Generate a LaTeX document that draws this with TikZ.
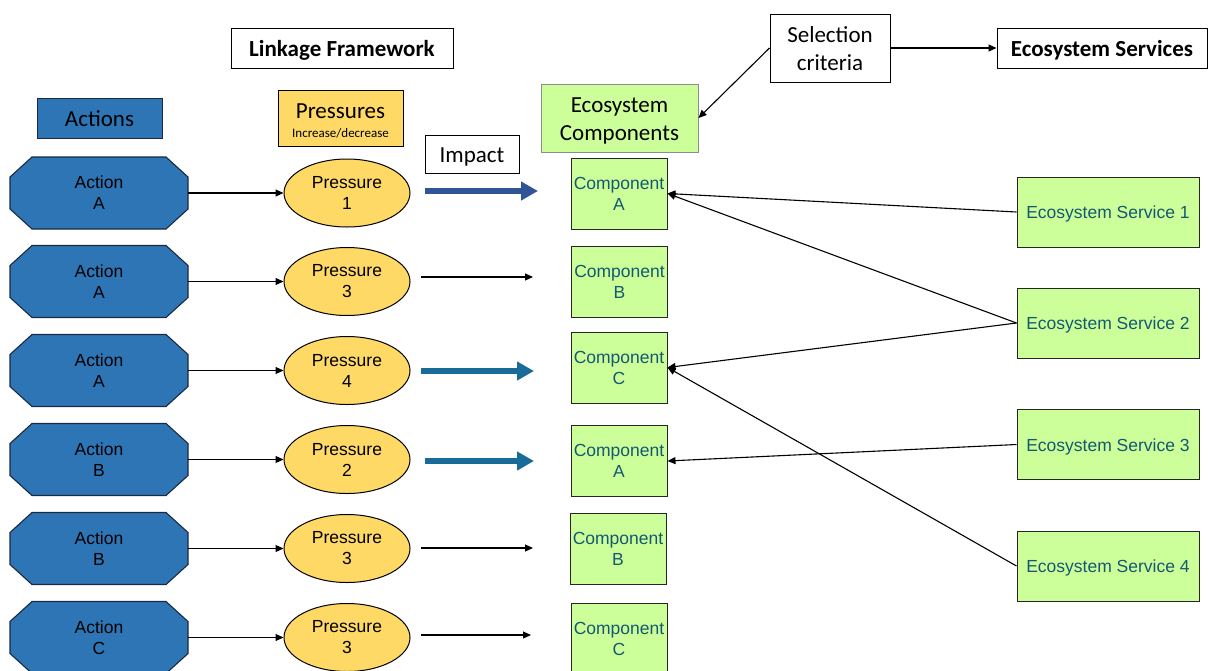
\documentclass[tikz,border=0pt]{standalone}
\usepackage{fontspec}
\setmainfont{Liberation Sans}
\newfontfamily\hdfont{Carlito}
\usetikzlibrary{shapes.geometric,arrows.meta}

\definecolor{actfill}{HTML}{2E75B6}
\definecolor{actline}{HTML}{1A2A40}
\definecolor{presfill}{HTML}{FFD966}
\definecolor{compfill}{HTML}{CCFF99}
\definecolor{comptext}{HTML}{145872}
\definecolor{impdark}{HTML}{2F5597}
\definecolor{impteal}{HTML}{1A6C98}

% header text, set in a zero-height box and lowered to sit centred in its frame
\newcommand{\hdtext}[1]{\raisebox{-9.5pt}[0pt][0pt]{\begin{tabular}{@{}c@{}}#1\end{tabular}}}
\newcommand{\svtext}[1]{\raisebox{-6.8pt}[0pt][0pt]{#1}}

\begin{document}
\begin{tikzpicture}[x=1pt,y=-1pt,
  hdr/.style={draw=black, line width=1pt, inner sep=0pt, align=center,
    font=\hdfont\fontsize{23}{28}\selectfont},
  actshape/.style={draw=actline, line width=1.1pt, fill=actfill, line join=miter},
  actbox/.style={rectangle, minimum width=178pt, minimum height=72pt,
    inner sep=0pt, align=center, font=\fontsize{17.5}{21}\selectfont},
  presnode/.style={ellipse, draw=black, line width=1pt, fill=presfill,
    minimum width=126pt, minimum height=68pt, inner sep=0pt, align=center,
    font=\fontsize{17.5}{21}\selectfont},
  compnode/.style={rectangle, draw=black!85, line width=1pt, fill=compfill,
    minimum width=96pt, minimum height=71pt, inner sep=0pt, align=center,
    text=comptext, font=\fontsize{17.5}{21}\selectfont},
  servnode/.style={rectangle, draw=black!85, line width=1pt, fill=compfill,
    minimum width=182pt, minimum height=70pt, inner sep=0pt, align=center,
    text=comptext, font=\fontsize{17.5}{21}\selectfont},
  link/.style={line width=1.1pt, -{Triangle[length=8pt,width=7pt]}},
  bigarrow/.style={line width=6pt, -{Triangle[length=17pt,width=18pt]}},
]
\useasboundingbox (0,0) rectangle (1208,670);
\fill[white] (0,0) rectangle (1208,670);

% header labels
\node[hdr, minimum width=222pt, minimum height=40pt] (lf) at (342,48)
  {\hdtext{\bfseries Linkage Framework}};
\node[hdr, fill=actfill, draw=actline, minimum width=125pt, minimum height=40pt]
  (acts) at (99.5,118) {\hdtext{Actions}};
\node[hdr, fill=presfill, minimum width=125pt, minimum height=56pt] (press)
  at (340.5,118) {\raisebox{-11pt}[0pt][0pt]{\begin{tabular}{@{}c@{}}Pressures\\[-9pt]
    {\fontsize{13}{15}\selectfont Increase/decrease}\end{tabular}}};
\node[hdr, minimum width=94pt, minimum height=38pt] (imp) at (472,154)
  {\hdtext{Impact}};
\node[hdr, fill=compfill, draw=black!45, minimum width=157pt, minimum height=68pt]
  (ecocomp) at (619.5,118) {\hdtext{Ecosystem\\Components}};
\node[hdr, minimum width=120pt, minimum height=68pt] (sel) at (830,48)
  {\hdtext{Selection\\criteria}};
\node[hdr, minimum width=210pt, minimum height=40pt] (es) at (1102,48)
  {\hdtext{\bfseries Ecosystem Services}};

\draw[link] (sel.west) -- (ecocomp.east);
\draw[link] (sel.east) -- (es.west);

% action -> pressure rows (octagonal action shapes)
\foreach \i/\y/\a/\p in {1/193/A/1, 2/281.5/A/3, 3/370.5/A/4, 4/459.5/B/2,
                          5/548.5/B/3, 6/637.5/C/3} {
  \path[actshape] (99,\y) +(-67,-36) -- +(67,-36) -- +(89,-16) -- +(89,16)
    -- +(67,36) -- +(-67,36) -- +(-89,16) -- +(-89,-16) -- cycle;
  \node[actbox] (a\i) at (99,\y) {Action\\\a};
  \node[presnode] (p\i) at (347,\y) {Pressure\\\p};
  \draw[link] (a\i.east) -- (p\i.west);
}

% ecosystem components
\node[compnode] (c1) at (619,193.5) {Component\\A};
\node[compnode] (c2) at (619.5,281.5) {Component\\B};
\node[compnode] (c3) at (619,367.5) {Component\\C};
\node[compnode] (c4) at (619,461) {Component\\A};
\node[compnode] (c5) at (618,548.5) {Component\\B};
\node[compnode] (c6) at (619,638.5) {Component\\C};

% impact arrows
\coordinate (i1s) at (425,191);  \coordinate (i1e) at (538,191);
\coordinate (i2s) at (421,277);  \coordinate (i2e) at (533,277);
\coordinate (i3s) at (421,371);  \coordinate (i3e) at (534,371);
\coordinate (i4s) at (425,461);  \coordinate (i4e) at (534,461);
\coordinate (i5s) at (421,548);  \coordinate (i5e) at (533,548);
\coordinate (i6s) at (421,635);  \coordinate (i6e) at (531,635);
\draw[bigarrow, draw=impdark, fill=impdark] (i1s) -- (i1e);
\draw[link] (i2s) -- (i2e);
\draw[bigarrow, draw=impteal, fill=impteal] (i3s) -- (i3e);
\draw[bigarrow, draw=impteal, fill=impteal] (i4s) -- (i4e);
\draw[link] (i5s) -- (i5e);
\draw[link] (i6s) -- (i6e);

% ecosystem services
\node[servnode] (s1) at (1108,212) {\svtext{Ecosystem Service 1}};
\node[servnode] (s2) at (1108,323) {\svtext{Ecosystem Service 2}};
\node[servnode] (s3) at (1108,444.5) {\svtext{Ecosystem Service 3}};
\node[servnode] (s4) at (1108,566) {\svtext{Ecosystem Service 4}};

\draw[link] (s1.west) -- (c1.east);
\draw[link] (s2.west) -- (c1.east);
\draw[link] (s2.west) -- (c3.east);
\draw[link] (s3.west) -- (c4.east);
\draw[link] (s4.west) -- (c3.east);
\end{tikzpicture}
\end{document}
